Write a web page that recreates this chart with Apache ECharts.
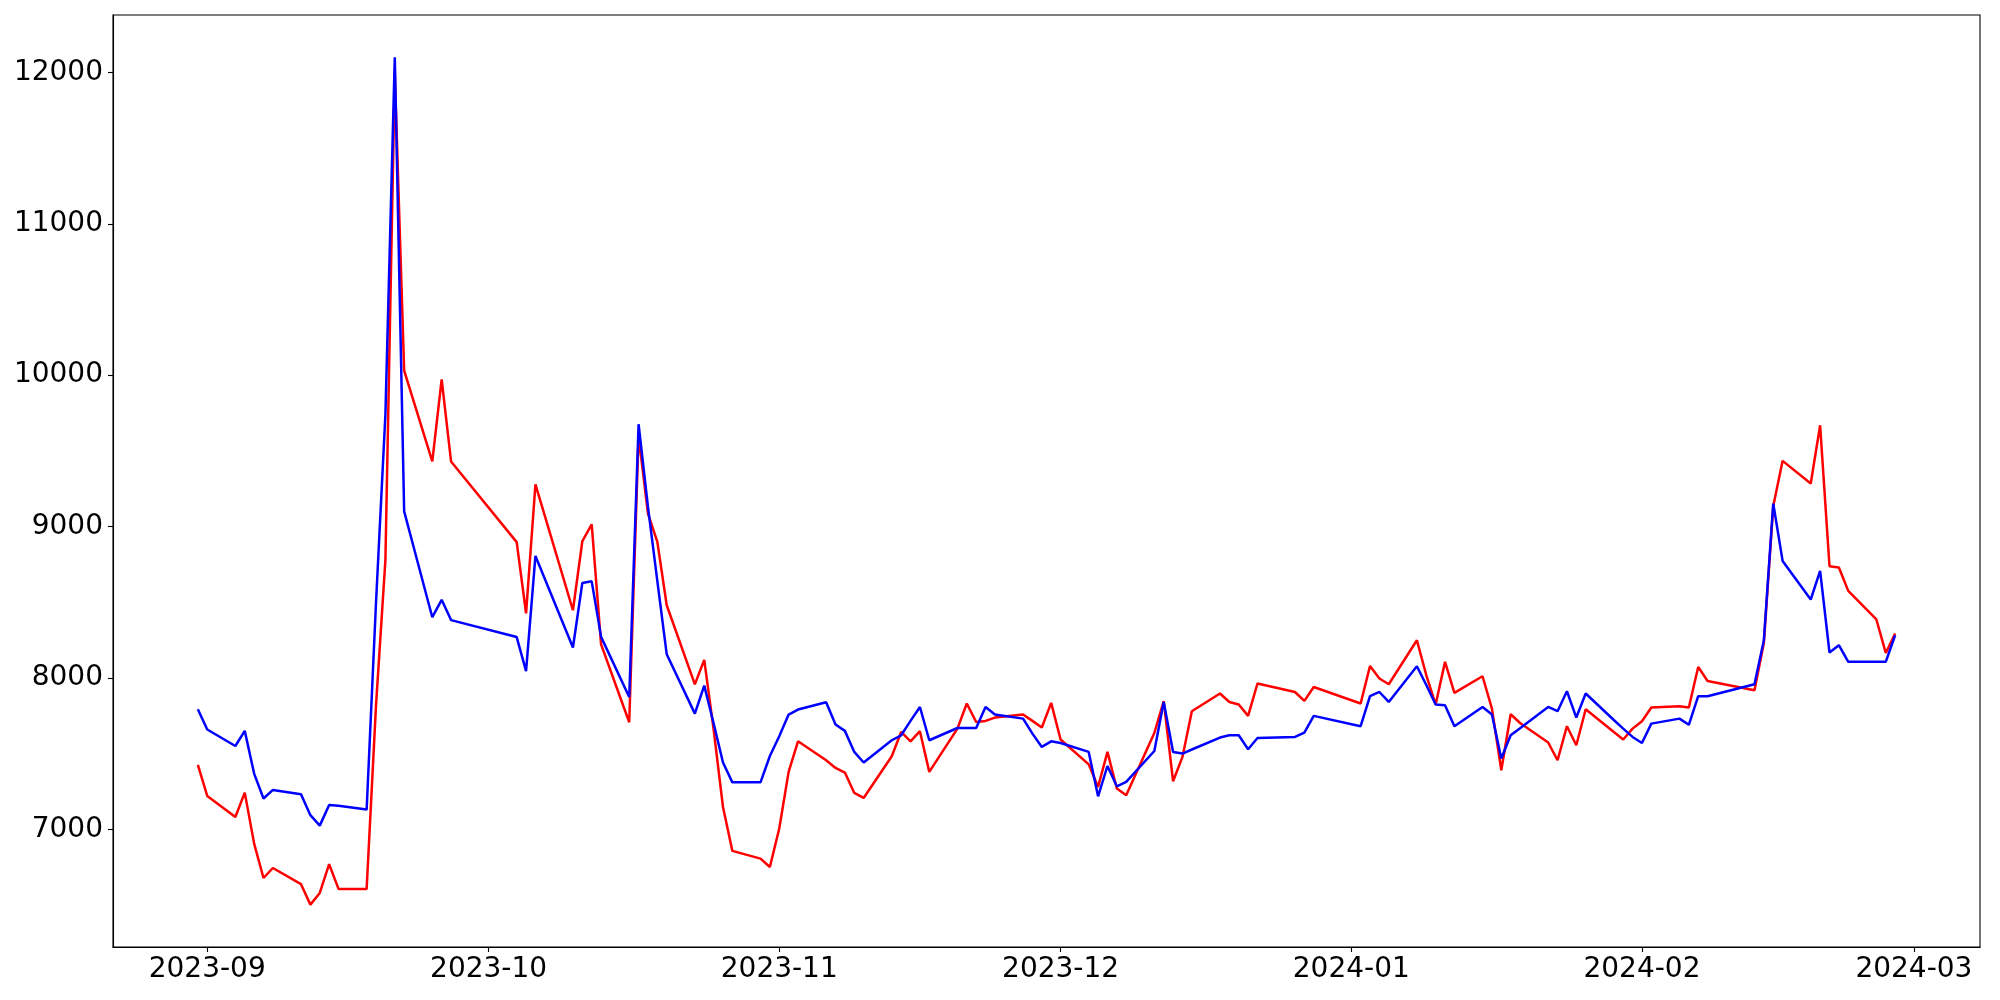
<!DOCTYPE html>
<html>
<head>
<meta charset="utf-8">
<script src="https://cdn.jsdelivr.net/npm/echarts@6/dist/echarts.min.js"></script>
<style>
html,body{margin:0;padding:0;background:#fff;}
#chart{width:2000px;height:1000px;}
</style>
</head>
<body>
<div id="chart"></div>
<script>
const dates = [
 '2023-08-31',
 '2023-09-01','2023-09-04','2023-09-05','2023-09-06','2023-09-07','2023-09-08','2023-09-11','2023-09-12','2023-09-13','2023-09-14','2023-09-15',
 '2023-09-18','2023-09-19','2023-09-20','2023-09-21','2023-09-22','2023-09-25','2023-09-26','2023-09-27',
 '2023-10-04','2023-10-05','2023-10-06','2023-10-10','2023-10-11','2023-10-12','2023-10-13','2023-10-16','2023-10-17','2023-10-18','2023-10-19','2023-10-20',
 '2023-10-23','2023-10-24','2023-10-25','2023-10-26','2023-10-27','2023-10-30','2023-10-31',
 '2023-11-01','2023-11-02','2023-11-03','2023-11-06','2023-11-07','2023-11-08','2023-11-09','2023-11-10','2023-11-13','2023-11-14','2023-11-15','2023-11-16','2023-11-17',
 '2023-11-20','2023-11-21','2023-11-22','2023-11-23','2023-11-24','2023-11-27','2023-11-28','2023-11-29','2023-11-30',
 '2023-12-01','2023-12-04','2023-12-05','2023-12-06','2023-12-07','2023-12-08','2023-12-11','2023-12-12','2023-12-13','2023-12-14','2023-12-15',
 '2023-12-18','2023-12-19','2023-12-20','2023-12-21','2023-12-22','2023-12-26','2023-12-27','2023-12-28',
 '2024-01-02','2024-01-03','2024-01-04','2024-01-05','2024-01-08','2024-01-09','2024-01-10','2024-01-11','2024-01-12','2024-01-15','2024-01-16','2024-01-17','2024-01-18','2024-01-19',
 '2024-01-22','2024-01-23','2024-01-24','2024-01-25','2024-01-26','2024-01-29','2024-01-30','2024-01-31',
 '2024-02-01','2024-02-02','2024-02-05','2024-02-06','2024-02-07','2024-02-08','2024-02-13','2024-02-14','2024-02-15','2024-02-16',
 '2024-02-19','2024-02-20','2024-02-21','2024-02-22','2024-02-23','2024-02-26','2024-02-27','2024-02-28'
];

const redValues = [
 7425,
 7220,7081,7242,6905,6678,6744,6637,6502,6579,6769,6606,
 6606,7820,8780,12000,10030,9430,9973,9430,
 8897,8426,9279,8447,8903,9015,8222,7707,9600,9086,8899,8480,
 7957,8119,7660,7147,6857,6806,6751,
 7005,7379,7581,7456,7405,7375,7240,7207,7482,7643,7581,7648,7379,
 7665,7831,7709,7716,7738,7758,7716,7672,7835,
 7593,7429,7280,7511,7269,7225,7636,7846,7317,7478,7780,
 7897,7841,7824,7749,7963,7907,7848,7940,
 7831,8079,7996,7958,8249,8018,7824,8106,7901,8011,7797,7390,7760,7702,
 7573,7456,7681,7555,7793,7642,7593,7665,
 7714,7804,7813,7804,8072,7980,7918,8230,9134,9434,
 9284,9669,8738,8729,8575,8386,8165,8293
];

const blueValues = [
 7793,
 7659,7550,7650,7368,7203,7260,7231,7093,7024,7161,7155,
 7130,8500,9740,12100,9100,8401,8516,8382,
 8270,8045,8806,8201,8627,8638,8271,7874,9676,9130,8640,8156,
 7764,7949,7700,7441,7310,7310,7484,
 7614,7758,7791,7839,7692,7650,7511,7441,7588,7621,7716,7808,7588,
 7669,7669,7669,7808,7758,7731,7632,7544,7581,
 7570,7511,7218,7418,7284,7313,7517,7841,7511,7500,7527,
 7606,7621,7621,7529,7603,7610,7639,7749,
 7681,7879,7907,7841,8077,7953,7824,7819,7681,7808,7758,7467,7621,7667,
 7808,7780,7912,7738,7897,7722,7665,7610,
 7570,7698,7731,7690,7879,7879,7958,8249,9152,8773,
 8518,8707,8168,8216,8106,8106,8106,8282
];

const xTickLabels = ['2023-09','2023-10','2023-11','2023-12','2024-01','2024-02','2024-03'];
const yTickValues = [7000, 8000, 9000, 10000, 11000, 12000];

function ts(s){
  const p = s.split('-').map(Number);
  return Date.UTC(p[0], p[1]-1, p[2] || 1);
}

const times = dates.map(ts);
const redData = times.map((t,i)=>[t, redValues[i]]);
const blueData = times.map((t,i)=>[t, blueValues[i]]);

// matplotlib-like 5% margins
const tMin = Math.min(...times), tMax = Math.max(...times);
const tPad = (tMax - tMin) * 0.05;
const allV = redValues.concat(blueValues);
const vMin = Math.min(...allV), vMax = Math.max(...allV);
const vPad = (vMax - vMin) * 0.05;

const xTickTimes = xTickLabels.map(ts);
const labelMap = {};
xTickTimes.forEach((t,i)=>{ labelMap[t] = xTickLabels[i]; });

const font = 'DejaVu Sans';
const chart = echarts.init(document.getElementById('chart'), null, {renderer:'canvas'});
chart.setOption({
  animation: false,
  backgroundColor: '#ffffff',
  grid: {
    left: 113, right: 20, top: 15, bottom: 53,
    show: true, borderColor: '#000000', borderWidth: 1.1, backgroundColor: 'transparent'
  },
  xAxis: {
    type: 'value',
    min: tMin - tPad,
    max: tMax + tPad,
    axisLine: {show: true, onZero: false, lineStyle: {color: '#000', width: 1.1}},
    axisTick: {show: true, length: 5, inside: false, customValues: xTickTimes, lineStyle: {color: '#000', width: 1.1}},
    axisLabel: {
      show: true, customValues: xTickTimes, margin: 9,
      fontFamily: font, fontSize: 28, color: '#000',
      formatter: function(v){ return labelMap[v] !== undefined ? labelMap[v] : ''; },
      hideOverlap: false
    },
    splitLine: {show: false},
    minorTick: {show: false}
  },
  yAxis: {
    type: 'value',
    min: vMin - vPad,
    max: vMax + vPad,
    axisLine: {show: true, onZero: false, lineStyle: {color: '#000', width: 1.1}},
    axisTick: {show: true, length: 5, inside: false, customValues: yTickValues, lineStyle: {color: '#000', width: 1.1}},
    axisLabel: {
      show: true, customValues: yTickValues, margin: 10,
      fontFamily: font, fontSize: 28, color: '#000',
      formatter: function(v){ return String(Math.round(v)); }
    },
    splitLine: {show: false}
  },
  series: [
    {
      name: 'red', type: 'line', data: redData, showSymbol: false, symbol: 'none',
      lineStyle: {color: '#ff0000', width: 2.5}, itemStyle: {color: '#ff0000'},
      emphasis: {disabled: true}
    },
    {
      name: 'blue', type: 'line', data: blueData, showSymbol: false, symbol: 'none',
      lineStyle: {color: '#0000ff', width: 2.5}, itemStyle: {color: '#0000ff'},
      emphasis: {disabled: true}
    }
  ]
});
</script>
</body>
</html>
